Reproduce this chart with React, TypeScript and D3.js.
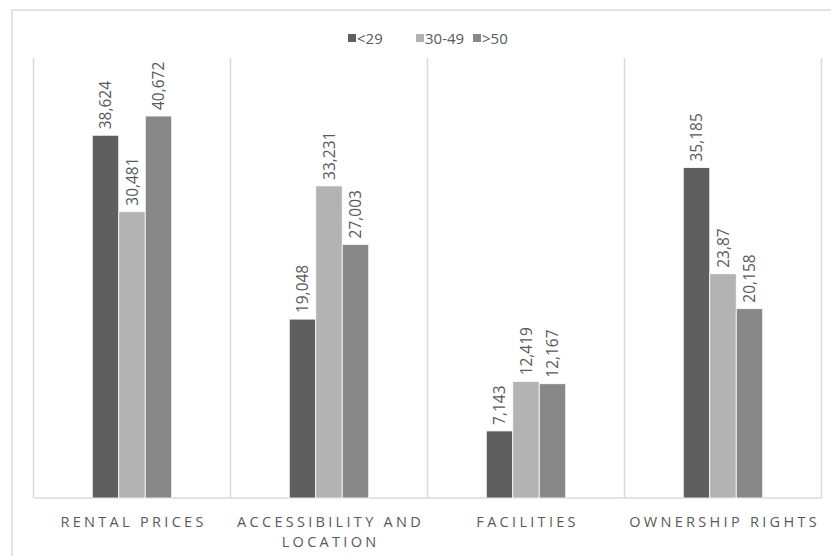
import React from "react";
import * as d3 from "d3";

const categories = ["RENTAL PRICES", "ACCESSIBILITY AND\nLOCATION", "FACILITIES", "OWNERSHIP RIGHTS"];
const seriesNames = ["<29", "30-49", ">50"];
const seriesColors = ["#5f5f5f", "#b3b3b3", "#888888"];
const under29 = [38.624, 19.048, 7.143, 35.185];
const from30to49 = [30.481, 33.231, 12.419, 23.87];
const over50 = [40.672, 27.003, 12.167, 20.158];
const seriesValues = [under29, from30to49, over50];

const W = 831;
const H = 556;
const plotLeft = 33.5;
const plotRight = 821.5;
const plotTop = 58;
const plotBottom = 498;

export default function App() {
  const x = d3.scaleBand<string>().domain(categories).range([plotLeft, plotRight]).paddingInner(0).paddingOuter(0);
  const y = d3.scaleLinear().domain([0, 46.85]).range([plotBottom, plotTop]);
  const bw = x.bandwidth();
  const barW = 26.5;
  const groupW = barW * 3;
  const fmt = (v: number) => v.toString().replace(".", ",");
  const font = "'Open Sans', 'Noto Sans', sans-serif";

  return (
    <svg width={W} height={H} style={{ position: "absolute", left: 0, top: 0, background: "#fff" }}>
      <rect x={12} y={10} width={900} height={600} fill="#fff" stroke="#d9d9d9" strokeWidth={1.5} />
      {categories.map((c, i) => (
        <line key={"s" + i} x1={x(c)!} x2={x(c)!} y1={plotTop} y2={plotBottom} stroke="#d9d9d9" strokeWidth={1.5} />
      ))}
      <line x1={plotRight} x2={plotRight} y1={plotTop} y2={plotBottom} stroke="#d9d9d9" strokeWidth={1.5} />
      <line x1={plotLeft} x2={plotRight} y1={plotBottom} y2={plotBottom} stroke="#d9d9d9" strokeWidth={1.5} />
      {categories.map((c, ci) => {
        const gx = x(c)! + (bw - groupW) / 2;
        return seriesValues.map((vals, si) => {
          const v = vals[ci];
          const bx = gx + si * barW;
          const by = y(v);
          const cx = bx + barW / 2;
          return (
            <g key={c + si}>
              <rect x={bx} y={by} width={barW} height={plotBottom - by} fill={seriesColors[si]} stroke="#ffffff" strokeWidth={0.8} />
              <text
                transform={`translate(${cx + 5.5},${by - 6}) rotate(-90)`}
                fontFamily={font}
                fontSize={15.5}
                fill="#595959"
                textAnchor="start"
              >
                {fmt(v)}
              </text>
            </g>
          );
        });
      })}
      {categories.map((c, ci) => {
        const lines = c.split("\n");
        const cx = x(c)! + bw / 2;
        return (
          <text key={"l" + ci} x={cx} y={527} textAnchor="middle" fontFamily={font} fontSize={14.5} fill="#595959" letterSpacing={3.3}>
            {lines.map((ln, li) => (
              <tspan key={li} x={cx + 1.6} dy={li === 0 ? 0 : 20}>{ln}</tspan>
            ))}
          </text>
        );
      })}
      {seriesNames.map((n, i) => {
        const lx = [348, 416, 473][i];
        return (
          <g key={"lg" + i}>
            <rect x={lx} y={34} width={8} height={8} fill={seriesColors[i]} />
            <text x={lx + 9} y={43.5} fontFamily={font} fontSize={15} fill="#595959">{n}</text>
          </g>
        );
      })}
    </svg>
  );
}
